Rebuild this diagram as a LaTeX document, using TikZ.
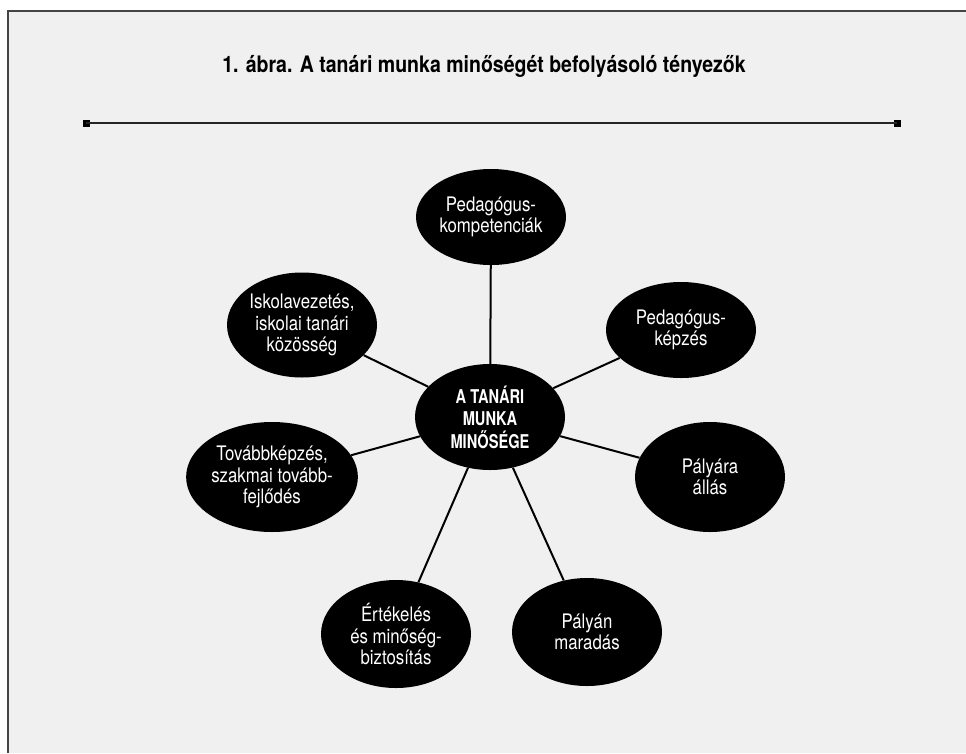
\documentclass[tikz,border=0pt]{standalone}
\usepackage{fontspec}
\setmainfont{TeX Gyre Heros}[FakeStretch=0.84]
\newfontfamily\corefont{TeX Gyre Heros}[FakeStretch=0.77]
\newfontfamily\titlefont{TeX Gyre Heros}[FakeStretch=0.86]
\usetikzlibrary{shapes.geometric}
\definecolor{panel}{HTML}{F0F0F0}
\definecolor{frameline}{HTML}{444444}
\tikzset{
  factor/.style={ellipse, fill=black, text=white, inner sep=0pt, minimum width=150pt,
    align=center, font=\fontsize{20}{21.5}\selectfont},
  core/.style={factor, font=\corefont\fontsize{19}{22.5}\bfseries\selectfont},
  spoke/.style={line width=2pt, black},
  endsq/.style={fill=black, inner sep=0pt, minimum size=7pt}
}
\begin{document}
\begin{tikzpicture}[x=1pt, y=-1pt]
\useasboundingbox (0,0) rectangle (966,753);
\fill[white] (0,0) rectangle (966,753);
\fill[panel] (8,11) rectangle (966,753);
\draw[frameline, line width=2pt] (8,753) -- (8,11) -- (966,11);
\node[font=\titlefont\fontsize{22.7}{26}\bfseries\selectfont] (title) at (484,66) {1. ábra. A tanári munka minőségét befolyásoló tényezők};
\node[endsq] (la) at (86,123) {};
\node[endsq] (lb) at (897,123) {};
\draw[line width=2pt, black!85] (la.center) -- (lb.center);

\node[core, minimum height=106pt] (c) at (490,417) {A TANÁRI\\MUNKA\\MINŐSÉGE};
\node[factor, minimum height=96pt] (comp) at (491,217) {Pedagógus-\\kompetenciák};
\node[factor, minimum height=96pt] (kepz) at (681,330) {Pedagógus-\\képzés};
\node[factor, minimum height=110pt] (palya) at (710,477) {Pályára\\állás};
\node[factor, minimum height=108pt] (marad) at (587,632) {Pályán\\maradás};
\node[factor, minimum height=108pt] (ertek) at (396,634) {Értékelés\\és minőség-\\biztosítás};
\node[factor, minimum height=110pt] (tovabb) at (272,477) {Továbbképzés,\\szakmai tovább-\\fejlődés};
\node[factor, minimum height=105pt] (iskola) at (302,325) {Iskolavezetés,\\iskolai tanári\\közösség};

\foreach \n in {comp,kepz,palya,marad,ertek,tovabb,iskola}
  \draw[spoke] (c) -- (\n);
\end{tikzpicture}
\end{document}
